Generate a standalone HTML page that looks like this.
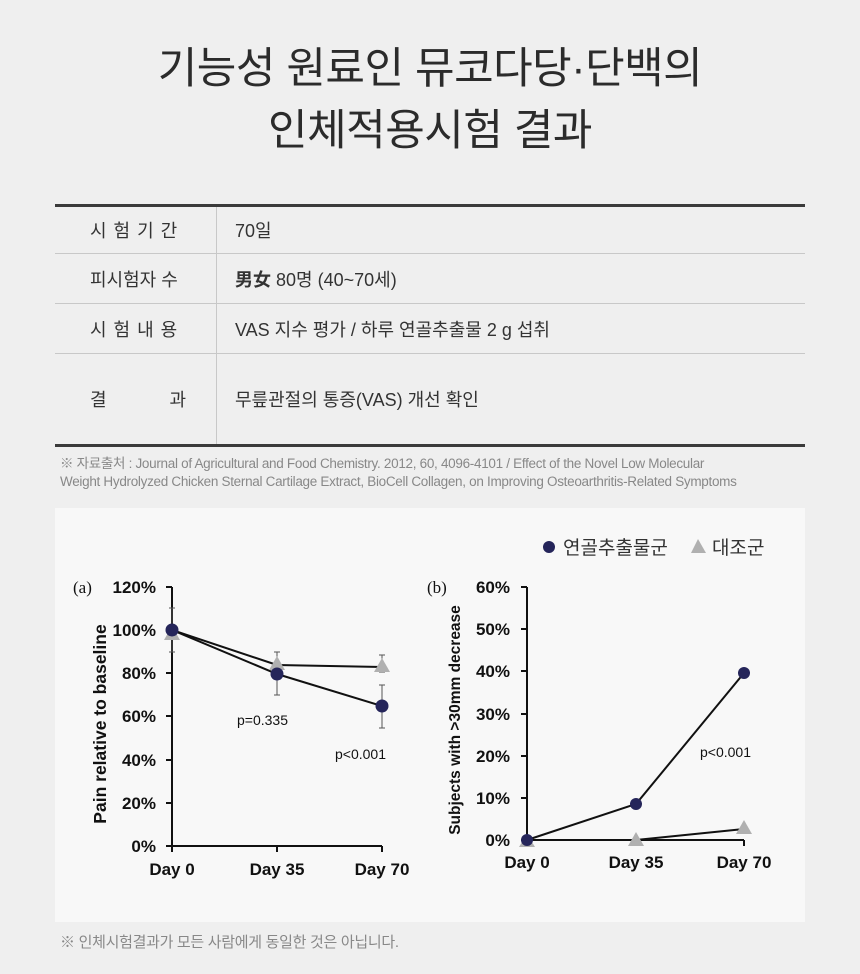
<!DOCTYPE html>
<html><head><meta charset="utf-8"><style>
*{margin:0;padding:0;box-sizing:border-box}
body{width:860px;height:974px;background:#efefef;font-family:"Liberation Sans","Noto Sans CJK KR",sans-serif;color:#333;position:relative;overflow:hidden}
.t{position:absolute;left:0;width:860px;text-align:center;font-size:43px;font-weight:normal;color:#2b2b2b;letter-spacing:-0.5px}
.row{position:absolute;left:55px;width:750px;border-bottom:1px solid #c8c8c8;font-size:18px;color:#333}
.row .k{position:absolute;left:0;width:162px;height:100%;border-right:1px solid #c8c8c8;display:flex;align-items:center;padding-left:35px;letter-spacing:1px}
.row .v{position:absolute;left:180px;height:100%;display:flex;align-items:center}
.note{position:absolute;left:60px;font-size:13.5px;color:#888;line-height:18px;letter-spacing:-0.3px}
</style></head><body>
<div class="t" style="top:34px">기능성 원료인 뮤코다당·단백의</div>
<div class="t" style="top:96px">인체적용시험 결과</div>
<div style="position:absolute;left:55px;top:204px;width:750px;height:3px;background:#3a3a3a"></div>
<div class="row" style="top:207px;height:47px"><div class="k">시 험 기 간</div><div class="v">70일</div></div>
<div class="row" style="top:254px;height:50px"><div class="k" style="letter-spacing:0">피시험자 수</div><div class="v"><b>男女</b>&nbsp;80명 (40~70세)</div></div>
<div class="row" style="top:304px;height:50px"><div class="k">시 험 내 용</div><div class="v">VAS 지수 평가 / 하루 연골추출물 2 g 섭취</div></div>
<div class="row" style="top:354px;height:90px;border-bottom:none"><div class="k" style="letter-spacing:0"><span style="width:96px;display:flex;justify-content:space-between"><span>결</span><span>과</span></span></div><div class="v">무릎관절의 통증(VAS) 개선 확인</div></div>
<div style="position:absolute;left:55px;top:444px;width:750px;height:3px;background:#3a3a3a"></div>
<div class="note" style="top:455px">※ 자료출처 : Journal of Agricultural and Food Chemistry. 2012, 60, 4096-4101 / Effect of the Novel Low Molecular<br>Weight Hydrolyzed Chicken Sternal Cartilage Extract, BioCell Collagen, on Improving Osteoarthritis-Related Symptoms</div>
<div style="position:absolute;left:55px;top:508px;width:750px;height:414px;background:#f8f8f8"></div>
<div class="note" style="top:934px;font-size:15px">※ 인체시험결과가 모든 사람에게 동일한 것은 아닙니다.</div>
<svg width="860" height="974" style="position:absolute;left:0;top:0" font-family="Liberation Sans, Noto Sans CJK KR, sans-serif">
<circle cx="549" cy="547" r="6" fill="#25255a"/>
<text x="563" y="554" font-size="19" fill="#333">연골추출물군</text>
<polygon points="698,539 691,553 706,553" fill="#b0b0b0"/>
<text x="712" y="554" font-size="19" fill="#333">대조군</text>
<text x="73" y="593" font-size="17" font-family="Liberation Serif,serif" fill="#111">(a)</text>
<g stroke="#111" stroke-width="2">
<line x1="172" y1="587" x2="172" y2="847"/>
<line x1="172" y1="846" x2="382" y2="846"/>
<line x1="277" y1="846" x2="277" y2="852"/><line x1="382" y1="846" x2="382" y2="852"/><line x1="172" y1="846" x2="172" y2="852"/>
<line x1="166" y1="587" x2="172" y2="587"/><line x1="166" y1="630" x2="172" y2="630"/><line x1="166" y1="673" x2="172" y2="673"/><line x1="166" y1="716" x2="172" y2="716"/><line x1="166" y1="760" x2="172" y2="760"/><line x1="166" y1="803" x2="172" y2="803"/><line x1="166" y1="846" x2="172" y2="846"/>
</g>
<g font-size="17" font-weight="bold" fill="#111" text-anchor="end">
<text x="156" y="593">120%</text><text x="156" y="636">100%</text><text x="156" y="679">80%</text><text x="156" y="722">60%</text><text x="156" y="766">40%</text><text x="156" y="809">20%</text><text x="156" y="852">0%</text>
</g>
<g font-size="17" font-weight="bold" fill="#111" text-anchor="middle">
<text x="172" y="875">Day 0</text><text x="277" y="875">Day 35</text><text x="382" y="875">Day 70</text>
</g>
<text transform="translate(106,724) rotate(-90)" font-size="17.5" font-weight="bold" fill="#111" text-anchor="middle">Pain relative to baseline</text>
<g stroke="#555" stroke-width="1">
<line x1="172" y1="608" x2="172" y2="652"/><line x1="169" y1="608" x2="175" y2="608"/><line x1="169" y1="652" x2="175" y2="652"/>
<line x1="277" y1="652" x2="277" y2="695"/><line x1="274" y1="652" x2="280" y2="652"/><line x1="274" y1="695" x2="280" y2="695"/>
<line x1="382" y1="655" x2="382" y2="672"/><line x1="379" y1="655" x2="385" y2="655"/><line x1="379" y1="672" x2="385" y2="672"/>
<line x1="382" y1="685" x2="382" y2="728"/><line x1="379" y1="685" x2="385" y2="685"/><line x1="379" y1="728" x2="385" y2="728"/>
</g>
<polyline points="172,630 277,665 382,667" fill="none" stroke="#111" stroke-width="2"/>
<polyline points="172,630 277,674 382,706" fill="none" stroke="#111" stroke-width="2"/>
<polygon points="172,626 164,640 180,640" fill="#b0b0b0"/>
<polygon points="277,656 269,670 285,670" fill="#b0b0b0"/>
<polygon points="382,658 374,672 390,672" fill="#b0b0b0"/>
<circle cx="172" cy="630" r="6.5" fill="#25255a"/><circle cx="277" cy="674" r="6.5" fill="#25255a"/><circle cx="382" cy="706" r="6.5" fill="#25255a"/>
<text x="237" y="725" font-size="14" fill="#111">p=0.335</text>
<text x="335" y="759" font-size="14" fill="#111">p&lt;0.001</text>
<text x="427" y="593" font-size="17" font-family="Liberation Serif,serif" fill="#111">(b)</text>
<g stroke="#111" stroke-width="2">
<line x1="527" y1="587" x2="527" y2="841"/>
<line x1="527" y1="840" x2="744" y2="840"/>
<line x1="744" y1="840" x2="744" y2="846"/>
<line x1="521" y1="587" x2="527" y2="587"/><line x1="521" y1="629" x2="527" y2="629"/><line x1="521" y1="671" x2="527" y2="671"/><line x1="521" y1="714" x2="527" y2="714"/><line x1="521" y1="756" x2="527" y2="756"/><line x1="521" y1="798" x2="527" y2="798"/><line x1="521" y1="840" x2="527" y2="840"/>
</g>
<g font-size="17" font-weight="bold" fill="#111" text-anchor="end">
<text x="510" y="593">60%</text><text x="510" y="635">50%</text><text x="510" y="677">40%</text><text x="510" y="720">30%</text><text x="510" y="762">20%</text><text x="510" y="804">10%</text><text x="510" y="846">0%</text>
</g>
<g font-size="17" font-weight="bold" fill="#111" text-anchor="middle">
<text x="527" y="868">Day 0</text><text x="636" y="868">Day 35</text><text x="744" y="868">Day 70</text>
</g>
<text transform="translate(460,720) rotate(-90)" font-size="15.5" font-weight="bold" fill="#111" text-anchor="middle">Subjects with &gt;30mm decrease</text>
<polyline points="527,840 636,840 744,829" fill="none" stroke="#111" stroke-width="2"/>
<polyline points="527,840 636,804 744,673" fill="none" stroke="#111" stroke-width="2"/>
<polygon points="527,834 519,847 535,847" fill="#b0b0b0"/>
<polygon points="636,832 628,846 644,846" fill="#b0b0b0"/>
<polygon points="744,820 736,834 752,834" fill="#b0b0b0"/>
<circle cx="527" cy="840" r="6" fill="#25255a"/><circle cx="636" cy="804" r="6" fill="#25255a"/><circle cx="744" cy="673" r="6" fill="#25255a"/>
<text x="700" y="757" font-size="14" fill="#111">p&lt;0.001</text>
</svg>
</body></html>
